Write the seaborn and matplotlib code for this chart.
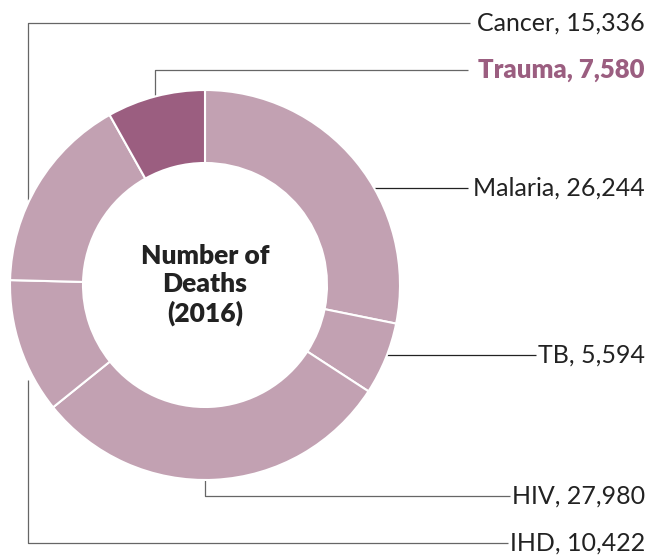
import matplotlib
matplotlib.use("Agg")
import matplotlib.pyplot as plt
import seaborn as sns

sns.set_theme(style="white")
plt.rcParams['font.family'] = ['Lato', 'DejaVu Sans']

# data, in ring order clockwise from 12 o'clock
causes = ["Malaria", "TB", "HIV", "IHD", "Cancer", "Trauma"]
deaths = [26244, 5594, 27980, 10422, 15336, 7580]
highlight = "Trauma"

light = "#c2a1b2"
dark = "#9b5e80"
colors = [dark if c == highlight else light for c in causes]

W, H = 651, 557
def Y(y):
    return H - y

fig = plt.figure(figsize=(W / 100, H / 100), dpi=100)
ax = fig.add_axes([0, 0, 1, 1])

# leader lines (pixel layout), drawn before the ring so the ring covers them
leaders = {
    "Cancer": ([470, 28, 28], [23, 23, 200], "#666666"),
    "Trauma": ([468, 155, 155], [70, 70, 100], "#666666"),
    "Malaria": ([468, 370], [188, 188], "#222222"),
    "TB": ([536, 385], [355, 355], "#222222"),
    "HIV": ([510, 205, 205], [496, 496, 475], "#666666"),
    "IHD": ([508, 28, 28], [543, 543, 380], "#666666"),
}
label_y = {"Cancer": 23, "Trauma": 70, "Malaria": 188, "TB": 355, "HIV": 496, "IHD": 543}

for name, (xs, ys, lc) in leaders.items():
    ax.plot(xs, [Y(v) for v in ys], color=lc, lw=0.9, zorder=1, solid_capstyle="butt")

wedges, _ = ax.pie(deaths, colors=colors, startangle=90, counterclock=False,
                   radius=195, center=(205, Y(285)),
                   wedgeprops=dict(width=73, edgecolor="white", linewidth=1.5))
for w in wedges:
    w.set_zorder(2)

for name, val in zip(causes, deaths):
    is_hl = name == highlight
    ax.text(645, Y(label_y[name]), f"{name}, {val:,}", ha="right", va="center",
            fontsize=18.5 if is_hl else 18, color=dark if is_hl else "#222222",
            fontweight="heavy" if is_hl else "normal", zorder=3)

ax.text(205, Y(285), "Number of\nDeaths\n(2016)", ha="center", va="center",
        fontsize=19, fontweight="heavy", color="#222222", linespacing=1.22)

ax.set_xlim(0, W)
ax.set_ylim(0, H)
ax.set_aspect("equal")
ax.axis("off")

fig.savefig("out.png", dpi=100)
